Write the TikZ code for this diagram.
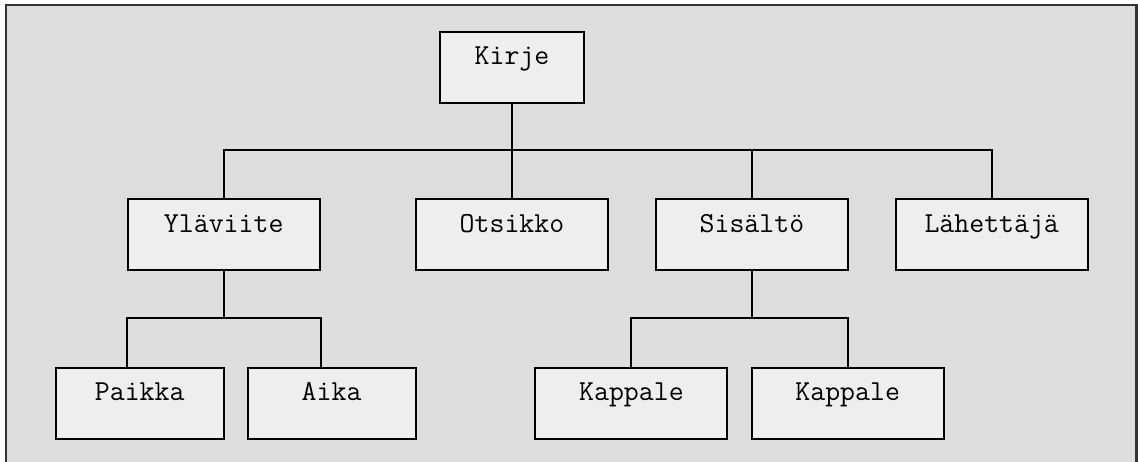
\documentclass[tikz,border=0pt]{standalone}
\usepackage{fontspec}
\definecolor{framegray}{HTML}{DEDEDE}
\definecolor{framedark}{HTML}{333333}
\definecolor{boxgray}{HTML}{EEEEEE}
\tikzset{
  part/.style={draw=black, fill=boxgray, line width=1pt, anchor=north,
    inner xsep=0pt, inner ysep=0pt, text height=16.5pt, text depth=19pt,
    font=\ttfamily\fontsize{14.5}{17}\selectfont},
  wide/.style={part, minimum width=96pt},
  narrow/.style={part, minimum width=84pt},
  link/.style={line width=1pt}
}

\begin{document}
\begin{tikzpicture}[x=0.5pt, y=-0.5pt]
      \useasboundingbox (0,0) rectangle (1138,461);
      \clip (0,0) rectangle (1138,461);
      \fill[framegray] (6,5) rectangle (1136.5,480);
      \draw[framedark, line width=1.2pt] (6,480) -- (6,5) -- (1136.5,5) -- (1136.5,480);

      % top level
      \node[part, minimum width=72pt] (kirje) at (512,30.5) {Kirje};

      % second level
      \node[wide] (ylaviite)  at (223.7,198) {Yläviite};
      \node[wide] (otsikko)   at (512,198) {Otsikko};
      \node[wide] (sisalto)   at (751.9,198) {Sisältö};
      \node[wide] (lahettaja) at (991.7,198) {Lähettäjä};

      % third level
      \node[narrow] (paikka)   at (139.7,366.5) {Paikka};
      \node[narrow] (aika)     at (331.6,366.5) {Aika};
      \node[wide]   (kappale1) at (631.4,366.5) {Kappale};
      \node[wide]   (kappale2) at (847.7,366.5) {Kappale};

      \coordinate (bus) at (512,150);
      \coordinate (ylbus) at (223.7,318.3);
      \coordinate (sisbus) at (751.9,318.3);

      \draw[link] (kirje.south) -- (otsikko.north);
      \draw[link] (ylaviite.north) |- (bus) -| (lahettaja.north);
      \draw[link] (sisalto.north) -- (sisalto.north |- bus);

      \draw[link] (ylaviite.south) -- (ylbus);
      \draw[link] (paikka.north -| ylaviite.south west) |- (ylbus)
                  -| (aika.north -| ylaviite.south east);

      \draw[link] (sisalto.south) -- (sisbus);
      \draw[link] (kappale1.north) |- (sisbus) -| (kappale2.north);
\end{tikzpicture}
\end{document}
